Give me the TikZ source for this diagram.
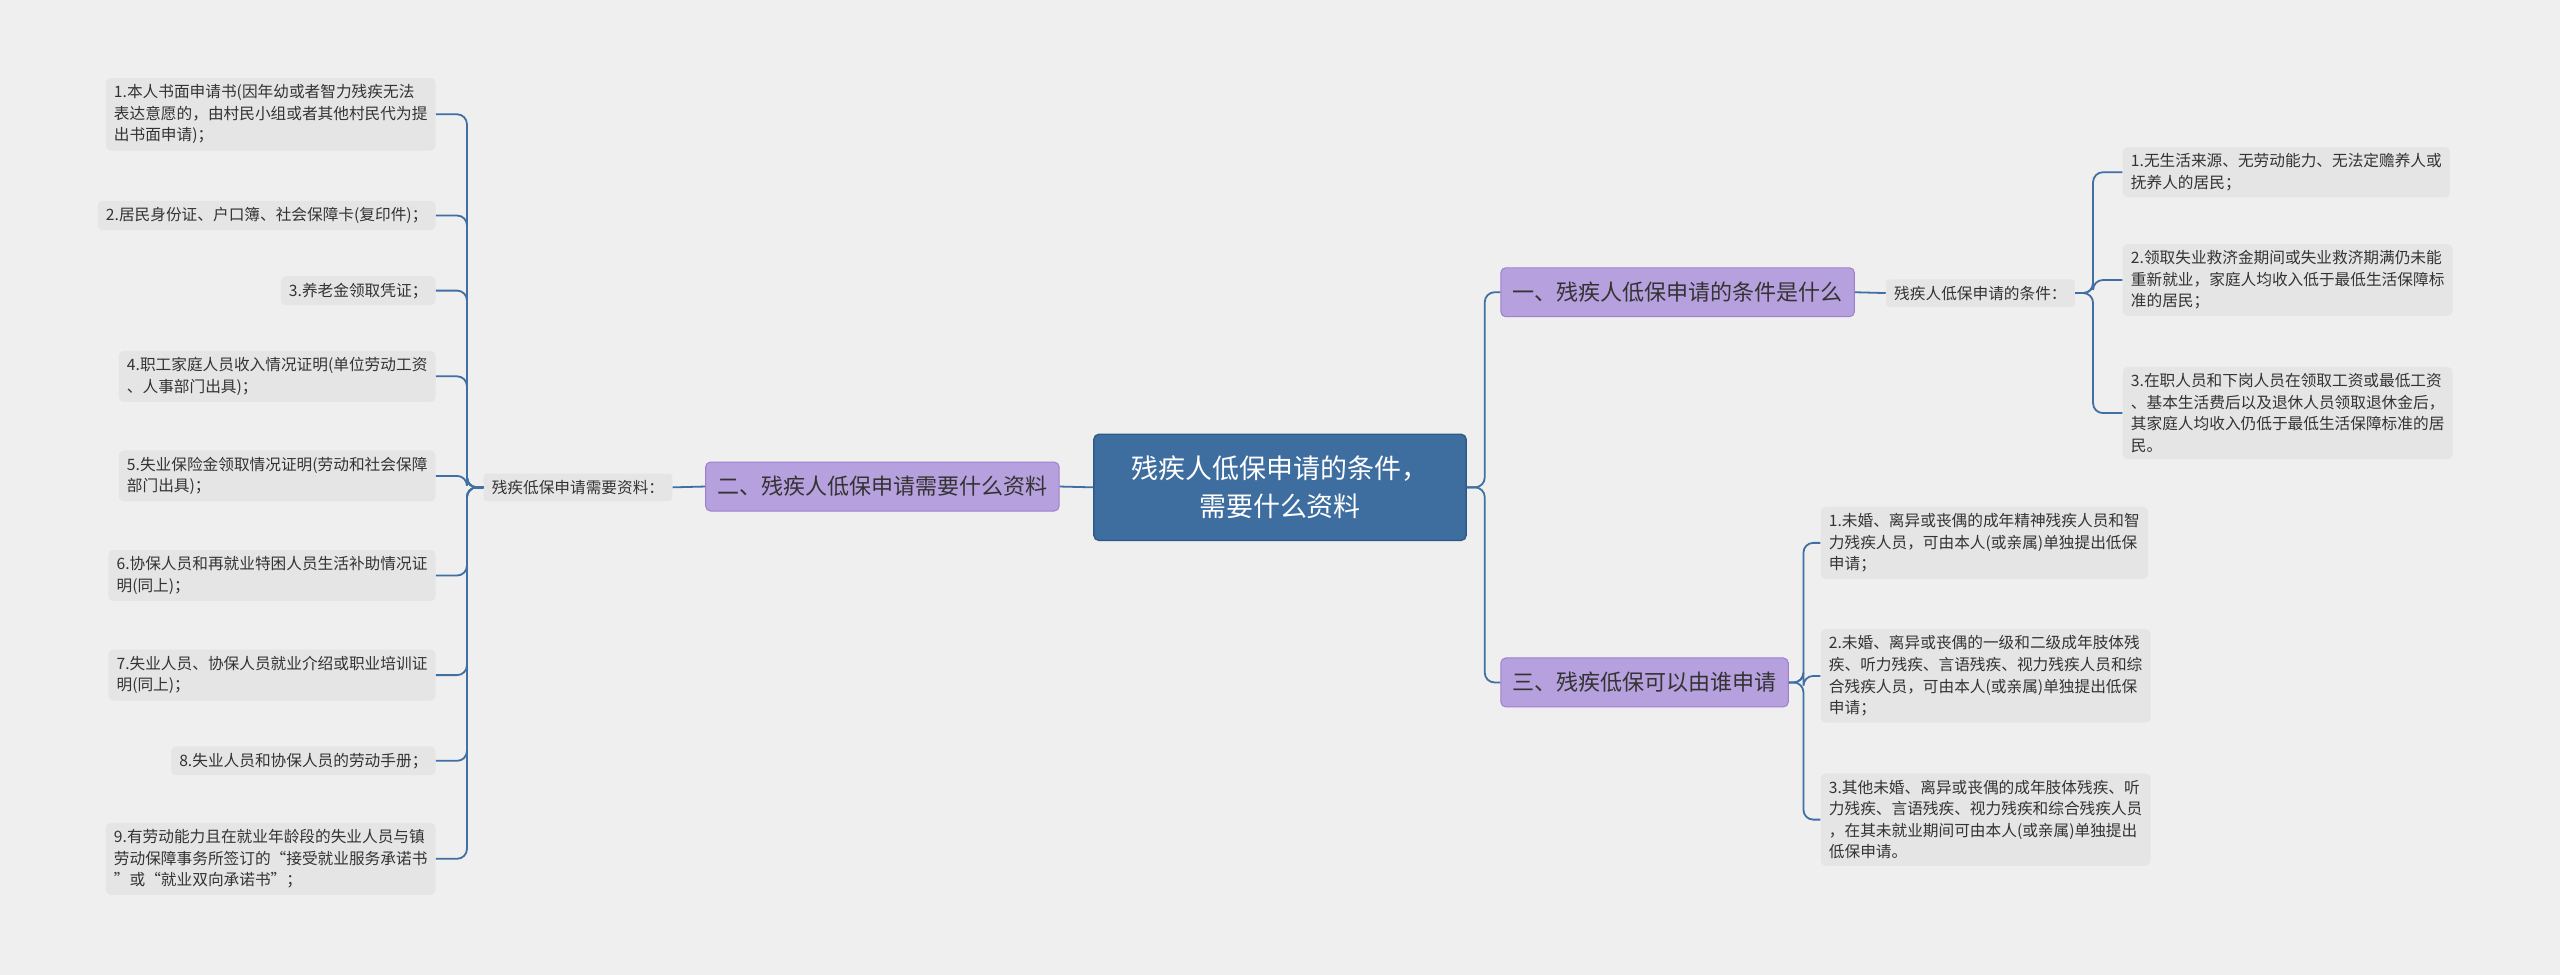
\documentclass[tikz,border=0pt]{standalone}
\usepackage{fontspec}
\setmainfont{Noto Sans CJK SC}
\begin{document}
\begin{tikzpicture}[x=1pt,y=-1pt,
  conn/.style={draw=cblue,line width=1.1pt,rounded corners=6pt},
  leaf/.style={fill=leafbg,rounded corners=3pt,inner xsep=5pt,inner ysep=4pt,align=left,text=txt,font=\fontsize{9.6}{13.2}\selectfont},
  sub/.style={fill=leafbg,rounded corners=2pt,inner xsep=5pt,inner ysep=4pt,text=txt,font=\fontsize{9.6}{12}\selectfont},
  branch/.style={fill=pfill,draw=pdraw,line width=0.6pt,rounded corners=3pt,minimum height=30pt,inner xsep=7pt,text=txt,font=\fontsize{13.5}{16}\selectfont},
  ctr/.style={fill=cfill,draw=cdraw,line width=0.8pt,rounded corners=3pt,minimum width=228pt,minimum height=65pt,align=center,text=white,font=\fontsize{16.5}{23}\selectfont}]
\definecolor{bg}{HTML}{EFEFEF}
\definecolor{leafbg}{HTML}{E5E5E5}
\definecolor{txt}{HTML}{333333}
\definecolor{cblue}{HTML}{3F6FA3}
\definecolor{pfill}{HTML}{B7A0DE}
\definecolor{pdraw}{HTML}{9C80CC}
\definecolor{cfill}{HTML}{3E6E9F}
\definecolor{cdraw}{HTML}{2E5A86}
\fill[bg] (0,0) rectangle (1568,597);
\useasboundingbox (0,0) rectangle (1568,597);

\node[ctr] (c) at (784,298.5) {残疾人低保申请的条件，\\需要什么资料};
\node[branch,anchor=west] (b1) at (919,179) {一、残疾人低保申请的条件是什么};
\node[branch,anchor=west] (b3) at (919,418) {三、残疾低保可以由谁申请};
\node[branch,anchor=east] (b2) at (649,298) {二、残疾人低保申请需要什么资料};
\node[sub,anchor=west] (s1) at (1155,179.5) {残疾人低保申请的条件：};
\node[sub,anchor=east] (s2) at (412,298.5) {残疾低保申请需要资料：};

\node[leaf,anchor=west] (r1) at (1300,105.5) {1.无生活来源、无劳动能力、无法定赡养人或\\抚养人的居民；};
\node[leaf,anchor=west] (r2) at (1300,171.5) {2.领取失业救济金期间或失业救济期满仍未能\\重新就业，家庭人均收入低于最低生活保障标\\准的居民；};
\node[leaf,anchor=west] (r3) at (1300,253) {3.在职人员和下岗人员在领取工资或最低工资\\、基本生活费后以及退休人员领取退休金后，\\其家庭人均收入仍低于最低生活保障标准的居\\民。};

\node[leaf,anchor=west] (t1) at (1115,332.5) {1.未婚、离异或丧偶的成年精神残疾人员和智\\力残疾人员，可由本人(或亲属)单独提出低保\\申请；};
\node[leaf,anchor=west] (t2) at (1115,414) {2.未婚、离异或丧偶的一级和二级成年肢体残\\疾、听力残疾、言语残疾、视力残疾人员和综\\合残疾人员，可由本人(或亲属)单独提出低保\\申请；};
\node[leaf,anchor=west] (t3) at (1115,502) {3.其他未婚、离异或丧偶的成年肢体残疾、听\\力残疾、言语残疾、视力残疾和综合残疾人员\\，在其未就业期间可由本人(或亲属)单独提出\\低保申请。};

\node[leaf,anchor=east] (l1) at (267,70) {1.本人书面申请书(因年幼或者智力残疾无法\\表达意愿的，由村民小组或者其他村民代为提\\出书面申请)；};
\node[leaf,anchor=east] (l2) at (267,132) {2.居民身份证、户口簿、社会保障卡(复印件)；};
\node[leaf,anchor=east] (l3) at (267,178) {3.养老金领取凭证；};
\node[leaf,anchor=east] (l4) at (267,230.5) {4.职工家庭人员收入情况证明(单位劳动工资\\、人事部门出具)；};
\node[leaf,anchor=east] (l5) at (267,291.5) {5.失业保险金领取情况证明(劳动和社会保障\\部门出具)；};
\node[leaf,anchor=east] (l6) at (267,352.5) {6.协保人员和再就业特困人员生活补助情况证\\明(同上)；};
\node[leaf,anchor=east] (l7) at (267,413.5) {7.失业人员、协保人员就业介绍或职业培训证\\明(同上)；};
\node[leaf,anchor=east] (l8) at (267,466) {8.失业人员和协保人员的劳动手册；};
\node[leaf,anchor=east] (l9) at (267,526) {9.有劳动能力且在就业年龄段的失业人员与镇\\劳动保障事务所签订的“接受就业服务承诺书\\”或“就业双向承诺书”；};

\draw[conn] (c.east) -- ++(11,0) |- (b1.west);
\draw[conn] (c.east) -- ++(11,0) |- (b3.west);
\draw[conn] (c.west) -- (b2.east);
\draw[conn] (b1.east) -- (s1.west);
\draw[conn] (b2.west) -- (s2.east);
\foreach \n in {r1,r2,r3} \draw[conn] (s1.east) -- ++(11,0) |- (\n.west);
\foreach \n in {t1,t2,t3} \draw[conn] (b3.east) -- ++(9,0) |- (\n.west);
\foreach \n in {l1,l2,l3,l4,l5,l6,l7,l8,l9} \draw[conn] (s2.west) -- ++(-10,0) |- (\n.east);
\end{tikzpicture}
\end{document}
